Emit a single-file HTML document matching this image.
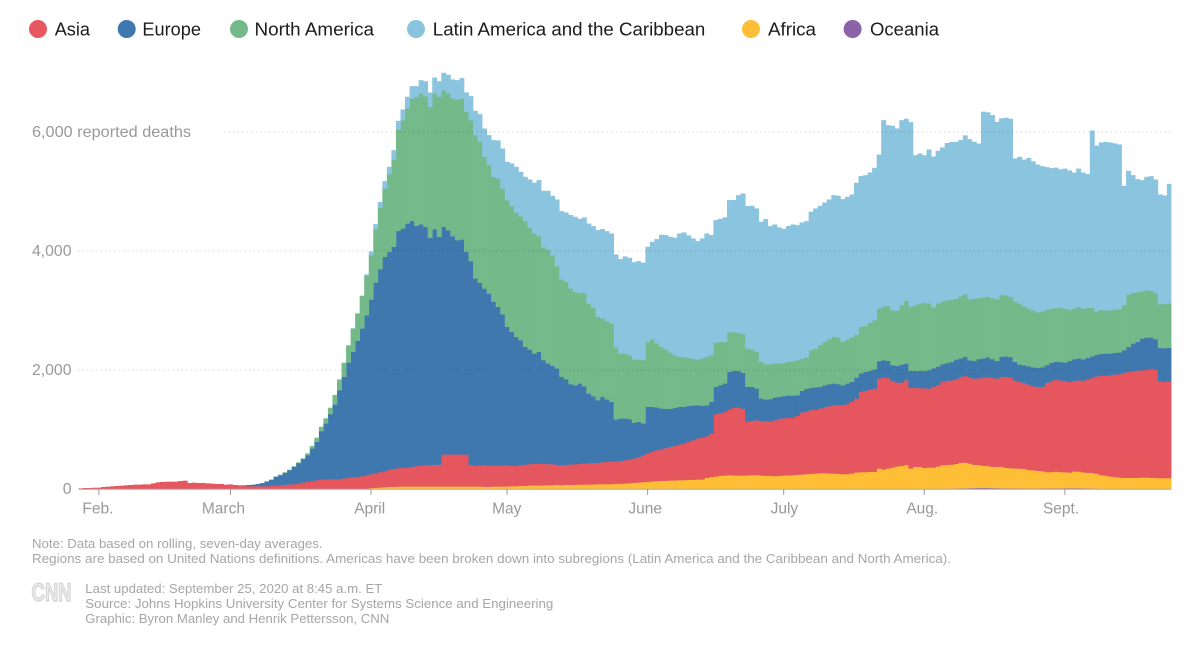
<!DOCTYPE html>
<html lang="en">
<head>
<meta charset="utf-8">
<title>Reported deaths by region</title>
<style>
html,body{margin:0;padding:0;background:#fff;}
svg{display:block;font-family:"Liberation Sans",sans-serif;}
</style>
</head>
<body>
<svg id="chart" xmlns="http://www.w3.org/2000/svg" width="1200" height="647" viewBox="0 0 1200 647">
  <rect x="0" y="0" width="1200" height="647" fill="#fff"/>
  <g id="legend" font-size="18.6" fill="#1c1c1c">
    <g><ellipse cx="38" cy="29" rx="9" ry="9" fill="#e8565f"/><text x="54.7" y="35.5" textLength="35.3" lengthAdjust="spacingAndGlyphs">Asia</text></g>
    <g><ellipse cx="126.7" cy="29" rx="9" ry="9" fill="#3f78ae"/><text x="142.4" y="35.5" textLength="58.6" lengthAdjust="spacingAndGlyphs">Europe</text></g>
    <g><ellipse cx="239" cy="29" rx="9" ry="9" fill="#74b98a"/><text x="254.5" y="35.5" textLength="119.5" lengthAdjust="spacingAndGlyphs">North America</text></g>
    <g><ellipse cx="416" cy="29" rx="9" ry="9" fill="#8ac4de"/><text x="432.8" y="35.5" textLength="272.5" lengthAdjust="spacingAndGlyphs">Latin America and the Caribbean</text></g>
    <g><ellipse cx="751" cy="29" rx="9" ry="9" fill="#febe36"/><text x="768" y="35.5" textLength="48" lengthAdjust="spacingAndGlyphs">Africa</text></g>
    <g><ellipse cx="852.6" cy="29" rx="9" ry="9" fill="#8a63a8"/><text x="870" y="35.5" textLength="69" lengthAdjust="spacingAndGlyphs">Oceania</text></g>
  </g>
  <g id="bars"></g>
  <g id="grid"></g>
  <g id="yaxis" font-size="15.8" fill="#999"></g>
  <g id="xaxis" font-size="15.5" fill="#999"></g>
  <g font-size="13.3" fill="#a6a6a6">
    <text x="32" y="548" textLength="290.6" lengthAdjust="spacingAndGlyphs">Note: Data based on rolling, seven-day averages.</text>
    <text x="32" y="563" textLength="919" lengthAdjust="spacingAndGlyphs">Regions are based on United Nations definitions. Americas have been broken down into subregions (Latin America and the Caribbean and North America).</text>
    <text x="85.3" y="593" textLength="297" lengthAdjust="spacingAndGlyphs">Last updated: September 25, 2020 at 8:45 a.m. ET</text>
    <text x="85.3" y="608" textLength="468" lengthAdjust="spacingAndGlyphs">Source: Johns Hopkins University Center for Systems Science and Engineering</text>
    <text x="85.3" y="623" textLength="304" lengthAdjust="spacingAndGlyphs">Graphic: Byron Manley and Henrik Pettersson, CNN</text>
  </g>
  <text x="31.5" y="601" font-size="25" font-weight="bold" fill="#ececec" stroke="#d6d6d6" stroke-width="1.4" textLength="40" lengthAdjust="spacingAndGlyphs">CNN</text>
</svg>
<script>
const oceania = [
0,0,0,0,0,0,0,0,0,0,0,0,0,0,0,0,0,0,0,0,0,0,0,0,0,0,0,0,0,0,0,0,0,0,0,0,0,0,0,0,0,0,0,0,0,0,0,0,0,
0,0,0,0,0,0,0,0,0,0,0,0,0,0,0,
0,0,0,0,0,0,0,0,0,0,0,0,0,0,0,0,0,0,0,0,0,0,0,0,0,
0,0,0,0,0,0,0,0,0,0,0,0,0,0,0,0,0,0,0,0,0,0,0,0,0,0,0,0,0,0,0,0,0,0,0,0,0,0,0,0,0,0,0,0,0,0,0,0,0,0,0,0,0,0,0,0,0,0,0,0,0,0,0,0,0,0,0,0,0,0,0,0,0,0,0,0,0,0,0,
0,0,0,0,0,0,0,0,0,0,0,0,0,0,0,0,0,0,0,0,
5,6,6,7,8,10,12,14,16,18,20,20,19,18,16,14,12,12,11,10,10,9,9,10,11,12,12,13,14,15,16,16,15,14,12,10,8,6,4,
0,0,0,0,0,0,0,0,0,0,0,0,0,0];
const africa = [
0,0,0,0,0,0,0,0,0,0,0,0,0,0,0,0,0,0,0,0,0,0,0,0,0,0,0,0,0,0,0,0,0,0,0,0,0,0,0,0,0,0,0,0,0,0,0,0,0,
0,0,0,0,0,0,0,0,0,0,0,0,0,0,0,
17,22,28,34,39,39,45,45,45,45,45,45,45,45,45,45,45,45,45,45,45,45,45,45,45,
39,39,45,45,45,45,50,50,56,56,62,62,62,62,67,67,73,67,73,73,73,78,78,78,78,84,84,84,84,90,90,95,101,106,112,118,123,129,134,140,140,146,146,151,151,157,157,162,162,190,202,213,224,230,235,230,230,230,230,235,235,230,224,224,218,224,230,230,235,241,246,252,258,263,269,269,263,263,258,
252,252,263,280,286,286,291,291,347,330,347,364,381,392,403,347,375,375,358,364,358,375,398,398,403,414,431,431,414,392,386,375,370,358,358,364,347,342,336,336,330,314,308,297,291,274,274,280,274,269,263,280,280,269,263,263,252,230,224,213,202,196,190,190,190,190,196,196,190,190,185,185,185];
const asia = [
11,17,17,22,22,34,39,45,50,56,62,67,73,73,78,78,95,112,118,123,123,123,134,140,101,106,101,101,95,90,84,84,73,78,67,62,56,50,50,50,50,50,56,62,67,73,78,84,90,
112,123,140,151,162,168,168,168,168,179,190,202,207,218,235,
235,246,258,269,291,302,308,314,319,330,342,353,358,358,364,364,538,538,538,538,538,538,364,353,353,
364,358,353,353,353,353,342,342,347,358,358,364,370,364,353,353,330,336,336,342,347,347,353,358,364,358,370,375,381,375,386,392,403,409,431,454,476,498,521,532,549,566,582,599,616,638,666,689,700,700,734,1047,1058,1070,1103,1137,1142,1120,902,913,924,918,918,913,941,958,963,969,963,991,1042,1053,1070,1075,1086,1114,1131,1148,1154,
1159,1176,1204,1243,1350,1366,1383,1400,1512,1546,1523,1450,1411,1400,1428,1355,1327,1322,1338,1327,1361,1372,1400,1417,1417,1428,1445,1456,1445,1450,1456,1478,1490,1495,1484,1512,1529,1523,1478,1456,1445,1434,1411,1411,1417,1501,1529,1546,1540,1534,1523,1523,1534,1540,1568,1596,1635,1674,1680,1702,1725,1736,1764,1781,1798,1803,1803,1814,1837,1820,1630,1618,1618];
const europe = [
0,0,0,0,0,0,0,0,0,0,0,0,0,0,0,0,0,0,0,0,0,0,0,0,0,0,0,0,0,0,0,0,0,0,0,0,
6,17,22,34,50,78,101,146,168,202,241,291,347,
392,448,543,644,812,935,1092,1254,1495,1708,1938,2106,2285,2481,2688,
2934,3203,3410,3601,3657,3730,3987,4021,4099,4133,4038,4054,4004,3819,3959,3830,3825,3769,3668,3601,3612,3405,3422,3142,3069,
2968,2890,2750,2666,2542,2330,2251,2167,2100,1977,1926,1854,1876,1742,1691,1652,1624,1484,1439,1350,1327,1350,1299,1170,1120,1053,1098,1047,1002,706,711,700,672,599,588,532,784,756,717,683,661,638,638,633,616,605,582,560,538,521,532,459,465,476,633,622,616,605,588,571,532,375,364,375,381,370,370,375,375,347,364,381,375,375,364,364,370,364,353,
336,347,336,353,308,319,314,319,291,291,286,269,280,302,280,286,286,291,291,308,308,308,297,297,308,325,308,325,291,297,325,325,336,314,297,336,342,342,314,291,297,308,319,319,330,297,308,302,308,308,353,364,370,358,364,364,364,364,370,364,364,364,381,420,459,482,532,538,521,510,560,566,571];
const northAmerica = [
0,0,0,0,0,0,0,0,0,0,0,0,0,0,0,0,0,0,0,0,0,0,0,0,0,0,0,0,0,0,0,0,0,0,0,0,0,0,0,0,0,0,0,0,
6,6,6,6,11,
11,28,39,67,73,84,106,157,179,235,286,392,459,549,666,
745,896,1036,1148,1305,1467,1702,1820,1932,2055,2167,2195,2195,2201,2279,2352,2296,2296,2313,2363,2369,2352,2369,2408,2369,
2212,2156,2100,2156,2111,2128,2117,2089,2083,2111,2050,2016,1943,1893,1915,1859,1719,1635,1635,1607,1568,1523,1568,1512,1490,1400,1316,1316,1316,1210,1092,1092,1075,1064,1047,1064,1092,1137,1075,1036,997,946,885,840,840,806,784,767,795,812,784,745,728,700,666,650,638,650,644,627,616,616,594,588,571,560,560,566,577,588,538,526,633,650,700,728,756,784,784,
728,739,745,722,784,773,806,829,885,896,924,924,924,997,1053,1075,1103,1131,1142,1120,1025,1064,1053,1053,1047,1025,1047,1047,1025,1047,1025,1025,1019,1025,1036,1036,1025,1014,1019,1025,991,969,958,935,941,935,907,902,913,907,857,851,862,851,840,812,728,739,722,728,728,728,756,879,851,834,795,795,784,778,734,745,750];
const latinAmerica = [
0,0,0,0,0,0,0,0,0,0,0,0,0,0,0,0,0,0,0,0,0,0,0,0,0,0,0,0,0,0,0,0,0,0,0,0,0,0,0,0,0,0,0,0,0,0,0,0,0,
0,0,0,0,0,0,0,0,0,0,0,0,0,0,17,
62,84,90,123,123,157,146,179,196,207,179,224,252,241,269,263,291,314,319,325,342,325,403,409,465,
476,504,616,638,672,644,711,767,745,745,806,851,941,952,986,997,1120,1148,1165,1232,1260,1243,1266,1344,1366,1456,1501,1512,1512,1562,1585,1630,1635,1635,1652,1635,1596,1635,1753,1882,1921,1943,1971,2072,2089,2055,2022,1988,2016,2072,2016,2055,2066,2089,2218,2218,2313,2363,2391,2414,2408,2352,2436,2318,2335,2285,2251,2279,2296,2268,2290,2290,2324,2352,2341,2341,2346,2380,2380,
2397,2397,2402,2548,2531,2531,2526,2559,2587,3136,3035,3097,3063,3108,3058,3102,2520,2520,2481,2587,2531,2559,2587,2643,2649,2632,2621,2671,2688,2632,2593,3119,3097,3074,2979,2968,2985,2990,2397,2464,2464,2531,2503,2481,2436,2391,2363,2358,2324,2352,2341,2285,2324,2285,2246,2979,2783,2811,2834,2817,2789,2766,2005,2078,1977,1898,1865,1904,1926,1904,1842,1820,2005];
const yTicks = [0, 2000, 4000, 6000];
const yTickLabels = ["0", "2,000", "4,000", "6,000 reported deaths"];
const monthLabels = ["Feb.", "March", "April", "May", "June", "July", "Aug.", "Sept."];
const monthStartDays = [4.5, 33.5, 64.5, 94.5, 125.5, 155.5, 186.5, 217.5];

const SVGNS = "http://www.w3.org/2000/svg";
const plotLeft = 78.5, barWidth = 4.535, barOverlap = 0.35, baseY = 489, pxPerDeath = 0.0595, plotRight = 1171.4;
function xScale(day) { return plotLeft + day * barWidth; }
function yScale(value) { return baseY - value * pxPerDeath; }
function svgEl(tag, attrs) {
  const el = document.createElementNS(SVGNS, tag);
  for (const k in attrs) el.setAttribute(k, attrs[k]);
  return el;
}
const seriesList = [
  ["oceania", oceania, "#8a63a8"],
  ["africa", africa, "#febe36"],
  ["asia", asia, "#e6565f"],
  ["europe", europe, "#3f78ae"],
  ["north-america", northAmerica, "#74b98a"],
  ["latin-america", latinAmerica, "#8ac4de"]
];
const barsRoot = document.getElementById("bars");
const cumulative = [];
seriesList.forEach(function (s) {
  const g = svgEl("g", { fill: s[2] });
  
  
  s[1].forEach(function (v, i) {
    const start = cumulative[i] || 0;
    const end = start + v;
    cumulative[i] = end;
    const isLast = i === s[1].length - 1;
    const rect = svgEl("rect", {
      x: xScale(i).toFixed(3),
      y: yScale(end).toFixed(2),
      width: isLast ? barWidth : barWidth + barOverlap,
      height: v > 0 ? (yScale(start) - yScale(end) + 0.3).toFixed(2) : 0
    });
    
    
    g.appendChild(rect);
  });
  barsRoot.appendChild(g);
});
const gridRoot = document.getElementById("grid");
const yRoot = document.getElementById("yaxis");
yTicks.forEach(function (t, i) {
  if (t > 0) {
    const line = svgEl("line", {
      x1: t === 6000 ? 224 : 78,
      x2: plotRight,
      y1: yScale(t),
      y2: yScale(t),
      stroke: "#000",
      "stroke-opacity": "0.16",
      "stroke-width": "1",
      "stroke-dasharray": "1.5 3"
    });
    
    
    gridRoot.appendChild(line);
  }
  const isTop = t === 6000;
  const label = svgEl("text", {
    x: isTop ? 32 : 71.5,
    y: yScale(t) + 4.8,
    "text-anchor": isTop ? "start" : "end"
  });
  if (isTop) {
    label.setAttribute("textLength", "159");
    label.setAttribute("lengthAdjust", "spacingAndGlyphs");
  }
  label.textContent = yTickLabels[i];
  
  
  yRoot.appendChild(label);
});
const xRoot = document.getElementById("xaxis");
const axisLine = svgEl("line", { x1: plotLeft, x2: plotRight, y1: baseY + 0.3, y2: baseY + 0.3, stroke: "#aaa", "stroke-width": "1" });


xRoot.appendChild(axisLine);
const labelNudge = [-1, -7, -1.3, -0.3, -2.5, 0.7, -2, -3.8];
monthStartDays.forEach(function (d, i) {
  const x = xScale(d);
  const tick = svgEl("line", { x1: x, x2: x, y1: baseY, y2: baseY + 6, stroke: "#999", "stroke-width": "1" });
  
  
  xRoot.appendChild(tick);
  const label = svgEl("text", { x: x + labelNudge[i], y: 513.5, "text-anchor": "middle" });
  label.textContent = monthLabels[i];
  
  
  xRoot.appendChild(label);
});
</script>
</body>
</html>
